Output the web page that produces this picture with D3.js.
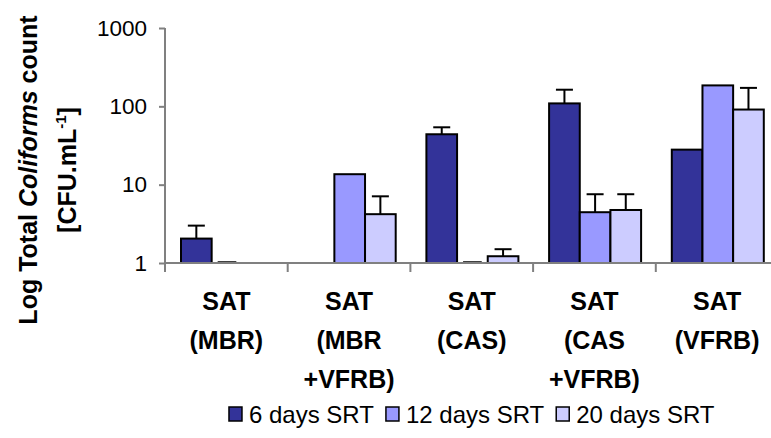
<!DOCTYPE html>
<html>
<head>
<meta charset="utf-8">
<script src="https://cdn.jsdelivr.net/npm/d3@7"></script>
<style>
  body { margin: 0; background: #fff; }
  svg { display: block; font-family: "Liberation Sans", Arial, sans-serif; }
</style>
</head>
<body>
<div id="chart"><svg></svg></div>
<script>
const CATEGORIES = [
  ['SAT', '(MBR)'],
  ['SAT', '(MBR', '+VFRB)'],
  ['SAT', '(CAS)'],
  ['SAT', '(CAS', '+VFRB)'],
  ['SAT', '(VFRB)']
];
const SERIES = ['6 days SRT', '12 days SRT', '20 days SRT'];
const COLORS = ['#333399', '#9999ff', '#ccccff'];

// bar values (null = no bar)
const SRT6 = [2.05, null, 44, 109, 28];
const SRT12 = [1, 13.6, 1, 4.45, 185];
const SRT20 = [null, 4.2, 1.22, 4.75, 91];

// upper error amounts
const ERR6 = [0.95, null, 10, 54, null];
const ERR12 = [null, null, null, 3.1, null];
const ERR20 = [null, 2.9, 0.28, 2.8, 81];

const Y_TICKS = [1, 10, 100, 1000];

const WIDTH = 771;
const HEIGHT = 438;
const PLOT = { left: 165, right: 778.5, top: 28, bottom: 263 };

const svg = d3.select('#chart').select('svg')
  .attr('width', WIDTH)
  .attr('height', HEIGHT);

const values = [SRT6, SRT12, SRT20];
const errors = [ERR6, ERR12, ERR20];
const rows = [];
CATEGORIES.forEach((c, i) => {
  SERIES.forEach((s, j) => {
    if (values[j][i] != null) {
      rows.push({ cat: i, series: j, value: values[j][i], err: errors[j][i] });
    }
  });
});

const x0 = d3.scaleBand().domain(d3.range(CATEGORIES.length)).range([PLOT.left, PLOT.right]);
const x1 = d3.scaleBand().domain(d3.range(SERIES.length)).range([16, 108]);
const y = d3.scaleLog().domain([1, 1000]).range([PLOT.bottom, PLOT.top]);

const barX = d => x0(d.cat) + x1(d.series);

// bars
svg.append('g')
  .selectAll('rect')
  .data(rows.filter(d => d.value > 1))
  .enter()
  .append('rect')
  .attr('x', barX)
  .attr('y', d => y(d.value))
  .attr('width', x1.bandwidth())
  .attr('height', d => y(1) - y(d.value))
  .attr('fill', d => COLORS[d.series])
  .attr('stroke', '#000')
  .attr('stroke-width', 2);

// bars sitting at the axis (value 1) show as a flat line
svg.append('g')
  .selectAll('line')
  .data(rows.filter(d => d.value <= 1))
  .enter()
  .append('line')
  .attr('x1', d => barX(d) + 6)
  .attr('x2', d => barX(d) + x1.bandwidth() - 6)
  .attr('y1', d => y(d.value) - 0.5)
  .attr('y2', d => y(d.value) - 0.5)
  .attr('stroke', '#000')
  .attr('stroke-width', 2.5);

// error bars
const errRows = rows.filter(d => d.err != null);
const eb = svg.append('g').attr('stroke', '#000').attr('stroke-width', 2);
eb.selectAll('.stem')
  .data(errRows)
  .enter()
  .append('line')
  .attr('x1', d => barX(d) + x1.bandwidth() / 2)
  .attr('x2', d => barX(d) + x1.bandwidth() / 2)
  .attr('y1', d => y(d.value))
  .attr('y2', d => y(d.value + d.err));
eb.selectAll('.cap')
  .data(errRows)
  .enter()
  .append('line')
  .attr('x1', d => barX(d) + x1.bandwidth() / 2 - 8.5)
  .attr('x2', d => barX(d) + x1.bandwidth() / 2 + 8.5)
  .attr('y1', d => y(d.value + d.err))
  .attr('y2', d => y(d.value + d.err));

// y axis
const yAxis = svg.append('g')
  .attr('transform', `translate(${PLOT.left},0)`)
  .call(d3.axisLeft(y).tickValues(Y_TICKS).tickFormat(d3.format('d')).tickSize(6).tickPadding(12));
yAxis.select('.domain').attr('stroke', '#808080').attr('stroke-width', 2).attr('d', `M0,${PLOT.top}V${PLOT.bottom}`);
yAxis.selectAll('.tick line').attr('stroke', '#808080').attr('stroke-width', 2);
yAxis.selectAll('.tick text').attr('font-size', 22.5).attr('fill', '#000').attr('font-family', '"Liberation Sans", Arial, sans-serif');

// x axis
const xAxis = svg.append('g').attr('transform', `translate(0,${PLOT.bottom})`);
xAxis.append('line')
  .attr('x1', PLOT.left).attr('x2', PLOT.right)
  .attr('stroke', '#808080').attr('stroke-width', 2);
xAxis.selectAll('.xt')
  .data(d3.range(CATEGORIES.length + 1))
  .enter()
  .append('line')
  .attr('x1', i => i < CATEGORIES.length ? x0(i) : PLOT.right)
  .attr('x2', i => i < CATEGORIES.length ? x0(i) : PLOT.right)
  .attr('y1', 0).attr('y2', 9)
  .attr('stroke', '#808080').attr('stroke-width', 2);

// category labels
const labels = svg.append('g')
  .attr('font-size', 25)
  .attr('font-weight', 'bold')
  .attr('text-anchor', 'middle');
CATEGORIES.forEach((lines, i) => {
  const t = labels.append('text');
  lines.forEach((ln, k) => {
    t.append('tspan')
      .attr('x', x0(i) + x0.bandwidth() / 2)
      .attr('y', 310 + k * 39)
      .text(ln);
  });
});

// y title
const yTitle = svg.append('text')
  .attr('transform', 'translate(37,170) rotate(-90)')
  .attr('text-anchor', 'middle')
  .attr('font-size', 25)
  .attr('font-weight', 'bold');
yTitle.append('tspan').text('Log Total ');
yTitle.append('tspan').attr('font-style', 'italic').text('Coliforms');
yTitle.append('tspan').text(' count');

const yTitle2 = svg.append('text')
  .attr('transform', 'translate(76,170) rotate(-90)')
  .attr('text-anchor', 'middle')
  .attr('font-size', 25)
  .attr('font-weight', 'bold');
yTitle2.append('tspan').text('[CFU.mL');
yTitle2.append('tspan').attr('font-size', 15).attr('dy', -10).text('-1');
yTitle2.append('tspan').attr('dy', 10).text(']');

// legend, centred under the plot
const legend = svg.append('g').attr('font-size', 24);
let lx = 0;
SERIES.forEach((s, j) => {
  legend.append('rect')
    .attr('x', lx).attr('y', 407)
    .attr('width', 13).attr('height', 14)
    .attr('fill', COLORS[j])
    .attr('stroke', '#000').attr('stroke-width', 1.5);
  const t = legend.append('text')
    .attr('x', lx + 20).attr('y', 423)
    .text(s);
  lx += 20 + t.node().getComputedTextLength() + 12;
});
const legendW = lx - 12;
legend.attr('transform', `translate(${(PLOT.left + PLOT.right) / 2 - legendW / 2},0)`);
</script>
</body>
</html>
